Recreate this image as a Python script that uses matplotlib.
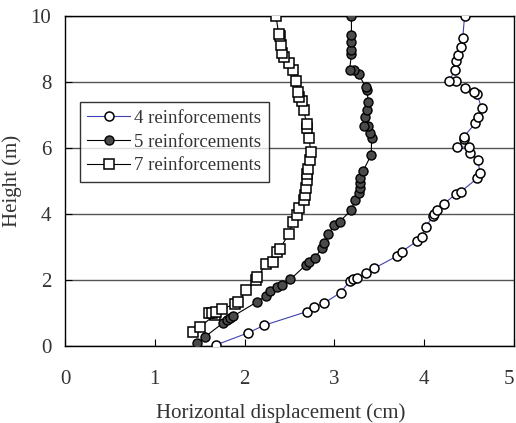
import matplotlib.pyplot as plt

plt.rcParams['font.family'] = ['Liberation Serif', 'DejaVu Serif']

# 4 reinforcements (open circles)
x4 = [1.68, 2.04, 2.22, 2.69, 2.77, 2.88, 3.07, 3.17, 3.21, 3.25, 3.35, 3.44,
      3.70, 3.75, 3.92, 3.98, 4.02, 4.10, 4.11, 4.14, 4.22, 4.35, 4.41, 4.59,
      4.62, 4.60, 4.51, 4.50, 4.37, 4.44, 4.44, 4.57, 4.60, 4.64, 4.59, 4.56,
      4.46, 4.35, 4.28, 4.34, 4.36, 4.38, 4.41, 4.43, 4.45]
h4 = [0.03, 0.40, 0.63, 1.04, 1.17, 1.29, 1.62, 1.97, 2.02, 2.05, 2.20, 2.35,
      2.73, 2.86, 3.18, 3.31, 3.62, 3.94, 3.99, 4.12, 4.30, 4.61, 4.68, 5.08,
      5.25, 5.64, 5.85, 6.02, 6.04, 6.26, 6.34, 6.75, 6.93, 7.20, 7.64, 7.71,
      7.83, 8.03, 8.03, 8.36, 8.65, 8.82, 9.05, 9.34, 10.0]

# 5 reinforcements (filled circles)
x5 = [1.47, 1.56, 1.76, 1.80, 1.84, 1.87, 2.14, 2.24, 2.28, 2.36, 2.42, 2.51,
      2.68, 2.72, 2.78, 2.86, 2.88, 2.93, 3.00, 3.06, 3.19, 3.23, 3.27, 3.29,
      3.29, 3.29, 3.32, 3.41, 3.415, 3.40, 3.38, 3.33, 3.34, 3.36, 3.38, 3.36,
      3.35, 3.27, 3.22, 3.17, 3.19, 3.19, 3.19, 3.19, 3.19]
h5 = [0.08, 0.28, 0.70, 0.80, 0.86, 0.90, 1.34, 1.52, 1.68, 1.78, 1.85, 2.02,
      2.45, 2.55, 2.66, 2.96, 3.11, 3.38, 3.67, 3.77, 4.13, 4.42, 4.63, 4.80,
      4.93, 5.10, 5.31, 5.79, 6.29, 6.45, 6.67, 6.67, 6.95, 7.15, 7.40, 7.76,
      7.84, 8.24, 8.36, 8.38, 8.84, 8.97, 9.22, 9.42, 10.0]

# 7 reinforcements (open squares)
x7 = [1.43, 1.50, 1.67, 1.60, 1.64, 1.68, 1.745, 1.89, 1.93, 2.02, 2.13, 2.14,
      2.24, 2.32, 2.36, 2.39, 2.49, 2.54, 2.58, 2.61, 2.66, 2.67, 2.68, 2.70,
      2.69, 2.71, 2.73, 2.735, 2.72, 2.695, 2.69, 2.66, 2.64, 2.61, 2.59, 2.57,
      2.54, 2.49, 2.44, 2.42, 2.41, 2.39, 2.38, 2.35]
h7 = [0.43, 0.58, 0.94, 1.01, 1.01, 1.02, 1.11, 1.28, 1.34, 1.70, 2.00, 2.08,
      2.48, 2.55, 2.86, 2.93, 3.39, 3.77, 3.97, 4.17, 4.42, 4.58, 4.78, 5.03,
      5.20, 5.38, 5.64, 5.89, 6.31, 6.62, 6.73, 7.15, 7.42, 7.54, 7.69, 8.04,
      8.37, 8.59, 8.77, 8.87, 9.12, 9.40, 9.45, 10.0]

fig = plt.figure(figsize=(5.16, 4.23), dpi=100)
ax = fig.add_axes([0.126, 0.182, 0.870, 0.780])

ax.plot(x4, h4, color='#4040b0', lw=0.8, marker='o', ms=6.5, mfc='white',
        mec='black', mew=1.1, label='4 reinforcements', zorder=3)
ax.plot(x5, h5, color='black', lw=0.8, marker='o', ms=6.5, mfc='#4a4a4a',
        mec='black', mew=1.0, label='5 reinforcements', zorder=3)
ax.plot(x7, h7, color='black', lw=0.8, marker='s', ms=6.5, mfc='white',
        mec='black', mew=1.1, label='7 reinforcements', zorder=3)

ax.set_xlim(0, 5)
ax.set_ylim(0, 10)
ax.set_xticks([0, 1, 2, 3, 4, 5])
ax.set_yticks([0, 2, 4, 6, 8, 10])
ax.yaxis.grid(True, color='#555555', lw=1.0)
ax.set_axisbelow(True)
ax.tick_params(axis='x', direction='in', length=5, pad=17, labelsize=15,
               labelcolor='#333333')
ax.tick_params(axis='y', direction='in', length=5, pad=10, labelsize=15,
               labelcolor='#333333')
for s in ax.spines.values():
    s.set_linewidth(1.0)

# last x tick label sits inside the figure edge
ax.get_xticklabels()[-1].set_horizontalalignment('right')

ax.set_xlabel('Horizontal displacement (cm)', fontsize=15, color='#333333',
              labelpad=9)
ax.xaxis.set_label_coords(0.48, -0.175)
ax.set_ylabel('Height (m)', fontsize=15, color='#333333', labelpad=6)

leg = ax.legend(loc='upper left', bbox_to_anchor=(0.033, 0.739),
                borderaxespad=0, fontsize=13.5, frameon=True, fancybox=False,
                edgecolor='black', handlelength=2.3, handletextpad=0.2,
                labelspacing=0.35, borderpad=0.4)
leg.get_frame().set_linewidth(1.0)
for t in leg.get_texts():
    t.set_color('#333333')

fig.savefig('out.png', dpi=100)
